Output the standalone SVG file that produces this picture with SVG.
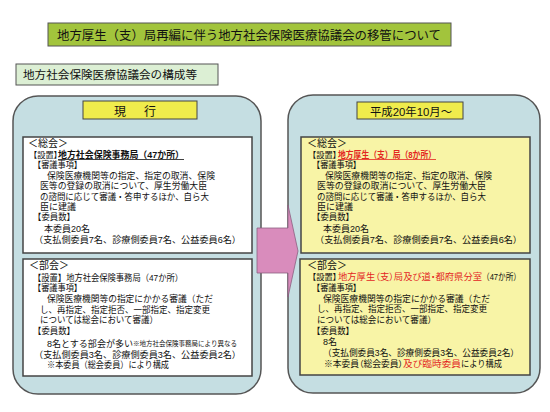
<svg xmlns="http://www.w3.org/2000/svg" width="550" height="412" viewBox="0 0 550 412">
<style>
text{font-family:"Liberation Sans","Noto Sans CJK JP",sans-serif;fill:#111}
.t{font-size:9px}
.h{font-size:12px}
.sec{font-size:10.5px}
.sm{font-size:6.3px}
.red{fill:#e3261f}
.b{font-weight:bold}
.p{font-feature-settings:"palt"}
.k{font-size:8.3px}
.panel{fill:#c5dee2;stroke:#555;stroke-width:1.5}
.wbox{fill:#fff;stroke:#444;stroke-width:1.5}
.ybox{fill:#f8f4a6;stroke:#444;stroke-width:1.5}
.hdr{fill:#f0ec4c;stroke:#444;stroke-width:1}
</style>
<rect width="550" height="412" fill="#fff"/>
<g id="title">
<rect x="48" y="23" width="403" height="23" fill="#a2c43c" stroke="#555" stroke-width="1"/>
<text x="57" y="39.5" style="font-size:12.5px" textLength="384" lengthAdjust="spacingAndGlyphs">地方厚生（支）局再編に伴う地方社会保険医療協議会の移管について</text>
</g>
<g id="subtitle">
<rect x="16" y="64" width="202" height="21" fill="#dcefd4" stroke="#555" stroke-width="1"/>
<text x="23" y="78.5" style="font-size:11.5px" textLength="174" lengthAdjust="spacingAndGlyphs">地方社会保険医療協議会の構成等</text>
</g>
<g id="current">
<rect class="panel" x="13" y="96" width="248" height="298" rx="25" ry="25"/>
<g id="current-header">
<rect class="hdr" x="83" y="101" width="114" height="18"/>
<text class="h" x="114" y="115.5">現</text><text class="h" x="144" y="115.5">行</text>
</g>
<g id="current-sokai">
<rect class="wbox" x="23" y="137" width="229" height="116"/>
<text class="sec" x="28" y="147" textLength="40" lengthAdjust="spacingAndGlyphs">＜総会＞</text>
<text class="t" x="33" y="157.5"><tspan class="k p" textLength="24.8" lengthAdjust="spacingAndGlyphs">【設置】</tspan><tspan class="b" x="58" textLength="126" lengthAdjust="spacingAndGlyphs">地方社会保険事務局（47か所）</tspan></text>
<line x1="58" y1="159.5" x2="184" y2="159.5" stroke="#111" stroke-width="0.8"/>
<text class="t" x="33" y="167.8" textLength="49" lengthAdjust="spacingAndGlyphs">【審議事項】</text>
<text class="t" x="47" y="178.5" textLength="168" lengthAdjust="spacingAndGlyphs">保険医療機関等の指定、指定の取消、保険</text>
<text class="t" x="40" y="189" textLength="167" lengthAdjust="spacingAndGlyphs">医等の登録の取消について、厚生労働大臣</text>
<text class="t" x="40" y="199.7" textLength="169" lengthAdjust="spacingAndGlyphs">の諮問に応じて審議・答申するほか、自ら大</text>
<text class="t" x="40" y="210">臣に建議</text>
<text class="t" x="33" y="220.3" textLength="42" lengthAdjust="spacingAndGlyphs">【委員数】</text>
<text class="t" x="44" y="232">本委員20名</text>
<text class="t" x="34" y="243" textLength="207" lengthAdjust="spacingAndGlyphs">（支払側委員7名、診療側委員7名、公益委員6名）</text>
</g>
<g id="current-bukai">
<rect class="wbox" x="23" y="259" width="229" height="117"/>
<text class="sec" x="29" y="269" textLength="40" lengthAdjust="spacingAndGlyphs">＜部会＞</text>
<text class="t" x="33" y="280.5" textLength="150" lengthAdjust="spacingAndGlyphs">【設置】地方社会保険事務局（47か所）</text>
<text class="t" x="33" y="291" textLength="49" lengthAdjust="spacingAndGlyphs">【審議事項】</text>
<text class="t" x="47" y="302" textLength="166" lengthAdjust="spacingAndGlyphs">保険医療機関等の指定にかかる審議（ただ</text>
<text class="t" x="40" y="313" textLength="170" lengthAdjust="spacingAndGlyphs">し、再指定、指定拒否、一部指定、指定変更</text>
<text class="t" x="40" y="323.4" textLength="118" lengthAdjust="spacingAndGlyphs">については総会において審議）</text>
<text class="t" x="33" y="334" textLength="42" lengthAdjust="spacingAndGlyphs">【委員数】</text>
<text class="t" x="47" y="347"><tspan textLength="86" lengthAdjust="spacingAndGlyphs">8名とする部会が多い</tspan><tspan class="sm" x="133" dy="-1" textLength="104" lengthAdjust="spacingAndGlyphs">※地方社会保険事務局により異なる</tspan></text>
<text class="t" x="34" y="358" textLength="207" lengthAdjust="spacingAndGlyphs">（支払側委員3名、診療側委員3名、公益委員2名）</text>
<text class="t" x="47" y="368.4" textLength="122" lengthAdjust="spacingAndGlyphs">※本委員（総会委員）により構成</text>
</g>
</g>
<g id="new">
<rect class="panel" x="288" y="95" width="252" height="298" rx="25" ry="25"/>
<g id="new-header">
<rect class="hdr" x="357" y="102" width="106" height="17"/>
<text x="370" y="115.5" style="font-size:11.7px" textLength="82" lengthAdjust="spacingAndGlyphs">平成20年10月～</text>
</g>
<g id="new-sokai">
<rect class="ybox" x="301" y="137" width="229" height="116"/>
<text class="sec" x="307" y="147" textLength="40" lengthAdjust="spacingAndGlyphs">＜総会＞</text>
<text class="t" x="312" y="157.5"><tspan class="k p" textLength="24.8" lengthAdjust="spacingAndGlyphs">【設置】</tspan><tspan class="b red" x="338" textLength="98" lengthAdjust="spacingAndGlyphs">地方厚生（支）局（8か所）</tspan></text>
<line x1="338" y1="159.5" x2="436" y2="159.5" stroke="#e3261f" stroke-width="0.8"/>
<text class="t" x="312" y="167.8" textLength="49" lengthAdjust="spacingAndGlyphs">【審議事項】</text>
<text class="t" x="325" y="178.5" textLength="167" lengthAdjust="spacingAndGlyphs">保険医療機関等の指定、指定の取消、保険</text>
<text class="t" x="317" y="189" textLength="169" lengthAdjust="spacingAndGlyphs">医等の登録の取消について、厚生労働大臣</text>
<text class="t" x="317" y="199.7" textLength="169" lengthAdjust="spacingAndGlyphs">の諮問に応じて審議・答申するほか、自ら大</text>
<text class="t" x="317" y="210">臣に建議</text>
<text class="t" x="312" y="220.3" textLength="42" lengthAdjust="spacingAndGlyphs">【委員数】</text>
<text class="t" x="323" y="232">本委員20名</text>
<text class="t" x="315" y="243" textLength="207" lengthAdjust="spacingAndGlyphs">（支払側委員7名、診療側委員7名、公益委員6名）</text>
</g>
<g id="new-bukai">
<rect class="ybox" x="300" y="259" width="230" height="116"/>
<text class="sec" x="307" y="269" textLength="40" lengthAdjust="spacingAndGlyphs">＜部会＞</text>
<text class="t" x="312" y="280.3"><tspan class="k p" textLength="24.8" lengthAdjust="spacingAndGlyphs">【設置】</tspan><tspan class="red p" x="338" textLength="144" lengthAdjust="spacingAndGlyphs">地方厚生（支）局及び道・都府県分室</tspan><tspan x="482" textLength="39" lengthAdjust="spacingAndGlyphs">（47か所）</tspan></text>
<text class="t" x="312" y="290.8" textLength="49" lengthAdjust="spacingAndGlyphs">【審議事項】</text>
<text class="t" x="323" y="302" textLength="167" lengthAdjust="spacingAndGlyphs">保険医療機関等の指定にかかる審議（ただ</text>
<text class="t" x="317" y="312.4" textLength="170" lengthAdjust="spacingAndGlyphs">し、再指定、指定拒否、一部指定、指定変更</text>
<text class="t" x="317" y="322.8" textLength="119" lengthAdjust="spacingAndGlyphs">については総会において審議）</text>
<text class="t" x="312" y="334" textLength="42" lengthAdjust="spacingAndGlyphs">【委員数】</text>
<text class="t" x="323" y="345">8名</text>
<text class="t" x="323" y="356" textLength="196" lengthAdjust="spacingAndGlyphs">（支払側委員3名、診療側委員3名、公益委員2名）</text>
<text class="t" x="324" y="367"><tspan class="p" style="font-size:8.7px" textLength="79" lengthAdjust="spacingAndGlyphs">※本委員（総会委員）</tspan><tspan class="red" x="403" textLength="58" lengthAdjust="spacingAndGlyphs">及び臨時委員</tspan><tspan x="461" textLength="41" lengthAdjust="spacingAndGlyphs">により構成</tspan></text>
</g>
</g>
<g id="connectors">
<polygon points="257,228 288,228 288,205 298,251 288,297 288,273 257,273" fill="#d98cbc" stroke="#8c6080" stroke-width="0.8"/>
</g>
</svg>
